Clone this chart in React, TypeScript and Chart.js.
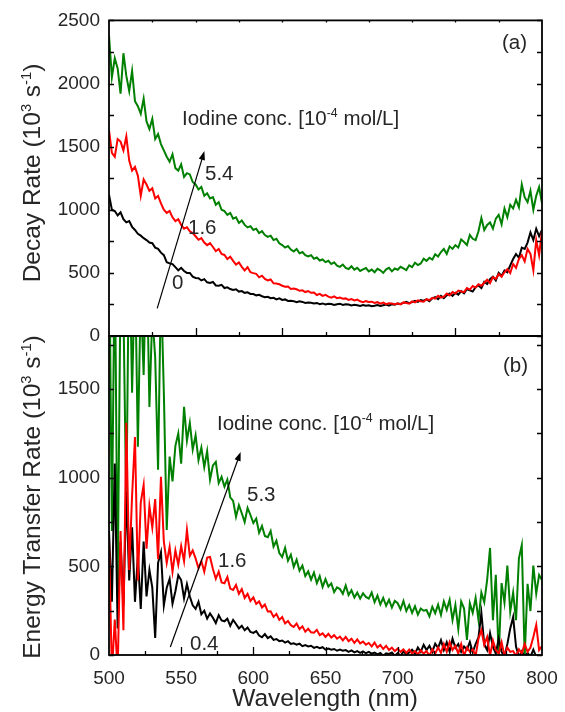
import React, { useEffect, useRef } from 'react';
import { Chart, registerables } from 'chart.js';

Chart.register(...registerables);

// ---------- data ----------
const wavelength = [
  500, 502, 504, 506, 508, 510, 512, 514, 516, 518,
  520, 522, 524, 526, 528, 530, 532, 534, 536, 538,
  540, 542, 544, 546, 548, 550, 552, 554, 556, 558,
  560, 562, 564, 566, 568, 570, 572, 574, 576, 578,
  580, 582, 584, 586, 588, 590, 592, 594, 596, 598,
  600, 602, 604, 606, 608, 610, 612, 614, 616, 618,
  620, 622, 624, 626, 628, 630, 632, 634, 636, 638,
  640, 642, 644, 646, 648, 650, 652, 654, 656, 658,
  660, 662, 664, 666, 668, 670, 672, 674, 676, 678,
  680, 682, 684, 686, 688, 690, 692, 694, 696, 698,
  700, 702, 704, 706, 708, 710, 712, 714, 716, 718,
  720, 722, 724, 726, 728, 730, 732, 734, 736, 738,
  740, 742, 744, 746, 748, 750, 752, 754, 756, 758,
  760, 762, 764, 766, 768, 770, 772, 774, 776, 778,
  780, 782, 784, 786, 788, 790, 792, 794, 796, 798,
  800,
];

// (a) Decay rate, 10^3 s^-1
const decay0 = [
  1120, 1000, 990, 955, 980, 925, 900, 910, 865, 840,
  810, 795, 775, 760, 740, 735, 700, 690, 660, 640,
  585, 575, 570, 545, 520, 540, 515, 500, 500, 470,
  460, 458, 440, 450, 425, 420, 428, 400, 398, 405,
  380, 385, 372, 365, 370, 352, 356, 342, 346, 333,
  332, 322, 326, 315, 308, 311, 300, 302, 290, 298,
  286, 290, 278, 280, 276, 268, 275, 270, 262, 266,
  264, 258, 262, 252, 258, 250, 256, 254, 246, 252,
  256, 246, 252, 250, 242, 248, 244, 238, 246, 240,
  244, 236, 240, 246, 238, 244, 250, 240, 252, 248,
  258, 254, 262, 270, 260, 268, 278, 270, 284, 280,
  290, 276, 298, 308, 292, 318, 300, 322, 336, 318,
  342, 328, 355, 338, 370, 362, 352, 386, 400, 380,
  430, 412, 450, 470, 440, 500, 476, 520, 505, 560,
  610, 650, 620, 700, 690, 740, 820, 760, 850, 790,
  840,
];
const decay16 = [
  1630, 1450, 1420, 1560, 1540, 1470, 1580, 1390, 1310, 1340,
  1270, 1110, 1240, 1200, 1150, 1170, 1090, 1110, 1050, 1000,
  975, 990, 940, 910, 925, 880, 850, 862, 830, 815,
  790, 762, 775, 740, 720, 736, 705, 672, 690, 650,
  642, 610, 628, 595, 565, 582, 548, 520, 545, 505,
  498, 492, 465, 478, 452, 440, 448, 418, 415, 410,
  398, 390, 392, 372, 376, 370, 358, 362, 348, 356,
  342, 345, 325, 334, 318, 326, 312, 304, 314, 300,
  305, 296, 298, 286, 292, 282, 288, 275, 268, 276,
  270, 272, 262, 268, 256, 264, 252, 260, 258, 250,
  258, 250, 266, 262, 256, 274, 266, 282, 276, 272,
  292, 284, 302, 296, 318, 304, 312, 336, 322, 348,
  336, 360, 352, 348, 380, 368, 396, 384, 410, 398,
  422, 446, 418, 466, 452, 490, 470, 505, 530, 498,
  570, 540, 610, 640, 590, 690, 650, 520, 760, 640,
  830,
];
const decay54 = [
  2380, 2050, 2200, 2120, 1920, 2240, 2060, 1940, 2100, 1860,
  1820, 1760, 1880, 1700, 1640, 1720, 1560, 1600, 1520, 1470,
  1420, 1380, 1440, 1330, 1310, 1360, 1260, 1290, 1280, 1220,
  1200, 1160, 1180, 1110, 1130, 1090, 1100, 1040, 1060, 1000,
  990, 960, 975, 930, 940, 895, 915, 880, 860, 870,
  840, 850, 815, 830, 800, 785, 795, 760, 770, 735,
  720, 700, 712, 685, 670, 690, 655, 665, 640, 630,
  640, 612, 622, 598, 606, 585, 596, 570, 584, 558,
  548, 566, 540, 530, 552, 526, 540, 515, 528, 538,
  512, 526, 505, 532, 520, 500, 528, 540, 512, 535,
  525, 548, 535, 522, 560, 545, 580, 562, 575, 612,
  595, 620, 605, 648, 630, 665, 690, 650, 710, 690,
  720, 700, 765, 745, 720, 800, 770, 760, 830, 935,
  840, 880, 900, 850, 930, 960, 885, 1010, 940, 1040,
  1010, 1080, 1020, 1200, 1100, 1060, 1150, 1000, 1110, 1180,
  1050,
];

// (b) Energy transfer rate, 10^3 s^-1
const transfer04 = [
  700, 300, 1080, 150, 640, 280, 920, 420, 720, 300,
  560, 260, 640, 330, 480, 380, 96, 520, 580, 280,
  380, 430, 290, 360, 450, 423, 320, 400, 330, 280,
  260, 300, 230, 250, 205, 235, 210, 180, 225, 195,
  190, 205, 165, 198, 175, 150, 165, 140, 155, 130,
  125, 135, 110, 100, 118, 95, 105, 85, 90, 78,
  82, 70, 78, 62, 66, 58, 64, 50, 56, 48,
  52, 40, 46, 38, 44, 30, 36, 30, 34, 24,
  30, 24, 28, 18, 26, 15, 22, 12, 20, 10,
  18, 8, 14, 4, 12, -5, 10, 6, 14, -5,
  10, -5, 20, 4, 14, 30, 8, 42, 18, 58,
  28, 52, 18, 64, 40, 84, 28, 72, 18, 92,
  40, 62, 18, 48, 30, 74, 16, 62, 100, 237,
  60, 28, 124, 46, 8, 92, 18, -10, 62, 150,
  214, 48, -10, 20, -10, 12, -10, 30, -10, -10,
  0,
];
const transfer16 = [
  650, -100, 200, -100, 700, 140, 1310, 480, 900, 1230,
  420, 860, 960, 600, 840, 720, 880, 540, 1005, 640,
  520, 610, 470, 590, 510, 615, 530, 705, 560, 590,
  545, 490, 530, 470, 550, 553, 485, 430, 470, 410,
  405, 440, 375, 367, 395, 345, 372, 322, 345, 305,
  325, 288, 302, 268, 285, 245, 246, 215, 232, 198,
  214, 178, 192, 168, 158, 178, 146, 162, 132, 148,
  128, 126, 142, 112, 122, 102, 120, 98, 112, 92,
  104, 82, 102, 78, 92, 68, 88, 66, 76, 58,
  68, 48, 70, 42, 56, 34, 52, 28, 42, 22,
  36, 18, 32, 12, 30, 8, 22, 4, 26, 8,
  22, -5, 32, 8, 42, 12, 62, 18, 73, 28,
  52, 8, 62, -5, 42, 18, 32, -5, 92, 140,
  58, 102, -5, 82, 28, 8, 72, -5, 42, 18,
  22, -5, 32, 8, 62, 18, 42, 102, 170, 28,
  50,
];
const transfer53 = [
  2500, 700, 2300, 384, 2100, 1950, 818, 2400, 1480, 2200,
  1175, 2050, 1580, 2300, 1400, 1920, 1680, 1045, 2100, 1480,
  705, 1120, 980, 1180, 1250, 1080, 1400, 1210, 1310, 1160,
  1240, 1100, 1170, 1060, 1150, 990, 1070, 1090, 970, 1005,
  950, 990, 890, 870, 780, 845, 800, 750, 830, 790,
  745, 770, 690, 728, 672, 665, 700, 612, 645, 575,
  553, 605, 532, 566, 497, 538, 476, 505, 446, 472,
  425, 465, 405, 445, 384, 428, 386, 404, 355, 382,
  372, 345, 392, 338, 365, 325, 352, 318, 348, 328,
  318, 352, 298, 335, 285, 322, 278, 312, 268, 305,
  292, 258, 305, 248, 282, 238, 275, 228, 262, 250,
  254, 218, 272, 236, 284, 226, 302, 255, 312, 198,
  282, 148, 302, 262, 85, 292, 238, 322, 198, 352,
  298, 424, 604, 196, 452, -10, 406, 296, 505, 245,
  352, 196, 545, 620, -10, 402, 248, 505, 346, 452,
  423,
];

const decayTickLabels = [0, 500, 1000, 1500, 2000, 2500];
const transferTickLabels = [0, 500, 1000, 1500];
const wavelengthTickLabels = [500, 550, 600, 650, 700, 750, 800];

// arrows in data coordinates [wavelength, rate]
const arrowA = { from: [533.4, 219], to: [566.1, 1466] };
const arrowB = { from: [542.5, 45], to: [591.2, 1146] };

const COLORS = { c0: '#000000', c16: '#ff0000', c54: '#008000' };
const FONT = "'Liberation Sans', Arial, Helvetica, sans-serif";
const TEXT = '#262626';

function seq(a: number, b: number, s: number) {
  const out: number[] = [];
  for (let v = a; v <= b + 1e-9; v += s) out.push(v);
  return out;
}

// tick marks drawn inside the frame: {side, values, len}
const framePlugin = {
  id: 'frame',
  afterDatasetsDraw(chart: any, _args: any, opts: any) {
    const { ctx, chartArea: a, scales } = chart;
    const xs = scales.x;
    const ys = scales.y;
    ctx.save();
    ctx.strokeStyle = '#000';
    ctx.lineWidth = 1.3;
    ctx.beginPath();
    (opts.marks || []).forEach((m: any) => {
      m.values.forEach((v: number) => {
        if (m.side === 'left' || m.side === 'right') {
          const py = Math.round(ys.getPixelForValue(v)) + 0.5;
          if (m.side === 'left') { ctx.moveTo(a.left, py); ctx.lineTo(a.left + m.len, py); }
          else { ctx.moveTo(a.right, py); ctx.lineTo(a.right - m.len, py); }
        } else {
          const px = Math.round(xs.getPixelForValue(v)) + 0.5;
          if (m.side === 'bottom') { ctx.moveTo(px, a.bottom); ctx.lineTo(px, a.bottom - m.len); }
          else { ctx.moveTo(px, a.top); ctx.lineTo(px, a.top + m.len); }
        }
      });
    });
    ctx.stroke();
    ctx.lineWidth = 1.8;
    ctx.strokeRect(a.left, a.top, a.right - a.left, a.bottom - a.top);

    if (opts.arrow) {
      const x0 = xs.getPixelForValue(opts.arrow.from[0]);
      const y0 = ys.getPixelForValue(opts.arrow.from[1]);
      const x1 = xs.getPixelForValue(opts.arrow.to[0]);
      const y1 = ys.getPixelForValue(opts.arrow.to[1]);
      const ang = Math.atan2(y1 - y0, x1 - x0);
      const hl = 9, hw = 3.2;
      ctx.lineWidth = 1.2;
      ctx.beginPath();
      ctx.moveTo(x0, y0);
      ctx.lineTo(x1 - Math.cos(ang) * hl * 0.8, y1 - Math.sin(ang) * hl * 0.8);
      ctx.stroke();
      ctx.fillStyle = '#000';
      ctx.beginPath();
      ctx.moveTo(x1, y1);
      ctx.lineTo(x1 - Math.cos(ang) * hl - Math.sin(ang) * hw, y1 - Math.sin(ang) * hl + Math.cos(ang) * hw);
      ctx.lineTo(x1 - Math.cos(ang) * hl + Math.sin(ang) * hw, y1 - Math.sin(ang) * hl - Math.cos(ang) * hw);
      ctx.closePath();
      ctx.fill();
    }
    ctx.restore();
  },
};

function series(values: number[], color: string) {
  return {
    data: wavelength.map((w, i) => ({ x: w, y: values[i] })),
    borderColor: color,
    backgroundColor: color,
    borderWidth: 2,
    pointRadius: 0,
    tension: 0,
    clip: 0,
  };
}

function makeConfig(p: {
  datasets: any[];
  yMax: number;
  yLabels: number[];
  padding: any;
  showX: boolean;
  xHeight: number;
  frame: any;
}) {
  return {
    type: 'line',
    data: { datasets: p.datasets },
    plugins: [framePlugin],
    options: {
      animation: false,
      responsive: false,
      maintainAspectRatio: false,
      devicePixelRatio: 1,
      layout: { padding: p.padding },
      plugins: {
        legend: { display: false },
        tooltip: { enabled: false },
        frame: p.frame,
      },
      scales: {
        x: {
          type: 'linear',
          min: 500,
          max: 800,
          display: p.showX,
          grid: { display: false, drawTicks: true, tickLength: 6 },
          border: { display: false },
          ticks: {
            autoSkip: false,
            maxRotation: 0,
            padding: 6,
            color: TEXT,
            font: { family: FONT, size: 19 },
            callback: (v: any) => String(v),
          },
          afterBuildTicks: (s: any) => {
            s.ticks = wavelengthTickLabels.map((v) => ({ value: v }));
          },
          afterFit: (s: any) => {
            s.height = p.xHeight;
          },
        },
        y: {
          type: 'linear',
          min: 0,
          max: p.yMax,
          grid: { display: false, drawTicks: false, tickLength: 0 },
          border: { display: false },
          ticks: {
            padding: 9,
            color: TEXT,
            font: { family: FONT, size: 19 },
            callback: (v: any) => String(v),
          },
          afterBuildTicks: (s: any) => {
            s.ticks = p.yLabels.map((v) => ({ value: v }));
          },
          afterFit: (s: any) => {
            s.width = 109;
          },
        },
      },
    },
  };
}

function ChartCanvas(props: { config: any; top: number; height: number }) {
  const ref = useRef<HTMLCanvasElement | null>(null);
  useEffect(() => {
    if (!ref.current) return;
    const chart = new Chart(ref.current, props.config as any);
    return () => chart.destroy();
  }, []);
  return (
    <canvas
      ref={ref}
      width={565}
      height={props.height}
      style={{ position: 'absolute', left: 0, top: props.top, width: 565, height: props.height }}
    />
  );
}

const sup: React.CSSProperties = { fontSize: '0.6em', position: 'relative', top: '-0.6em', lineHeight: 0 };

function Label(props: { x: number; cy: number; size: number; children: React.ReactNode }) {
  return (
    <div
      style={{
        position: 'absolute',
        left: props.x,
        top: props.cy - props.size / 2,
        fontSize: props.size,
        lineHeight: 1,
        whiteSpace: 'nowrap',
        color: TEXT,
        fontFamily: FONT,
      }}
    >
      {props.children}
    </div>
  );
}

function Centered(props: { cx: number; cy: number; size: number; rotate?: boolean; children: React.ReactNode }) {
  return (
    <div
      style={{
        position: 'absolute',
        left: props.cx,
        top: props.cy,
        transform: `translate(-50%, -50%)${props.rotate ? ' rotate(-90deg)' : ''}`,
        fontSize: props.size,
        lineHeight: 1,
        whiteSpace: 'nowrap',
        color: TEXT,
        fontFamily: FONT,
      }}
    >
      {props.children}
    </div>
  );
}

export default function App() {
  const topConfig = makeConfig({
    datasets: [series(decay16, COLORS.c16), series(decay0, COLORS.c0), series(decay54, COLORS.c54)],
    yMax: 2500,
    yLabels: decayTickLabels,
    padding: { top: 17, right: 23, bottom: 24, left: 0 },
    showX: false,
    xHeight: 0,
    frame: {
      marks: [
        { side: 'left', values: seq(0, 2500, 250), len: 5 },
        { side: 'right', values: seq(0, 2500, 250), len: 5 },
        { side: 'bottom', values: seq(560, 740, 60), len: 8 },
        { side: 'bottom', values: seq(530, 770, 60), len: 4 },
        { side: 'top', values: seq(530, 770, 30), len: 2 },
      ],
      arrow: arrowA,
    },
  });
  const bottomConfig = makeConfig({
    datasets: [series(transfer16, COLORS.c16), series(transfer04, COLORS.c0), series(transfer53, COLORS.c54)],
    yMax: 1800,
    yLabels: transferTickLabels,
    padding: { top: 36, right: 23, bottom: 0, left: 0 },
    showX: true,
    xHeight: 57,
    frame: {
      marks: [
        { side: 'left', values: seq(0, 1750, 250), len: 5 },
        { side: 'right', values: seq(0, 1750, 250), len: 5 },
        { side: 'bottom', values: seq(550, 750, 50), len: 8 },
        { side: 'bottom', values: seq(525, 775, 50), len: 4 },
      ],
      arrow: arrowB,
    },
  });

  return (
    <div style={{ position: 'absolute', left: 0, top: 0, width: 565, height: 712, background: '#fff', overflow: 'hidden' }}>
      <ChartCanvas config={topConfig} top={0} height={360} />
      <ChartCanvas config={bottomConfig} top={300} height={412} />

      <Centered cx={32} cy={173} size={24.5} rotate>
        Decay Rate (10<span style={sup}>3</span> s<span style={sup}>-1</span>)
      </Centered>
      <Centered cx={32} cy={497} size={24.5} rotate>
        Energy Transfer Rate (10<span style={sup}>3</span> s<span style={sup}>-1</span>)
      </Centered>
      <Centered cx={325} cy={698} size={24.5}>
        Wavelength (nm)
      </Centered>

      <Label x={502} cy={42} size={20.5}>(a)</Label>
      <Label x={503} cy={365} size={20.5}>(b)</Label>

      <Label x={182} cy={118} size={20.5}>
        Iodine conc. [10<span style={sup}>-4</span> mol/L]
      </Label>
      <Label x={205} cy={173} size={20.5}>5.4</Label>
      <Label x={188} cy={227} size={20.5}>1.6</Label>
      <Label x={172} cy={282} size={20.5}>0</Label>

      <Label x={217} cy={423} size={20.5}>
        Iodine conc. [10<span style={sup}>-4</span> mol/L]
      </Label>
      <Label x={247} cy={494} size={20.5}>5.3</Label>
      <Label x={218} cy={560} size={20.5}>1.6</Label>
      <Label x={190} cy={643} size={20.5}>0.4</Label>
    </div>
  );
}
